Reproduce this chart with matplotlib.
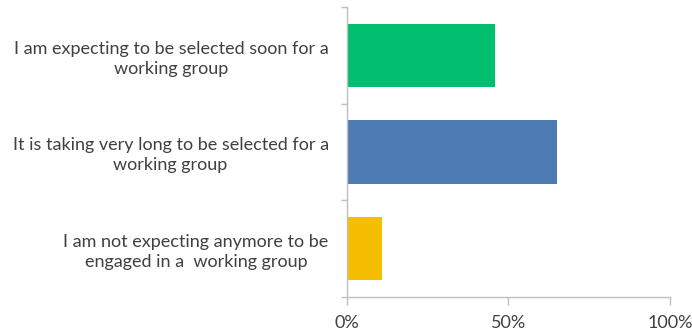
import matplotlib
matplotlib.use("Agg")
import matplotlib.pyplot as plt
from matplotlib.ticker import FixedLocator, PercentFormatter

categories = [
    "I am expecting to be selected soon for a\nworking group",
    "It is taking very long to be selected for a\nworking group",
    "I am not expecting anymore to be\nengaged in a  working group",
]
values = [46, 65, 11]
colors = ["#00BF6F", "#4E7BB4", "#F6BE00"]
xticks = [0, 50, 100]

plt.rcParams["font.family"] = ["Lato", "DejaVu Sans"]

fig = plt.figure(figsize=(6.92, 3.31), dpi=100)
ax = fig.add_axes([0.501, 0.104, 0.467, 0.874])

n = len(categories)
ypos = [n - 1 - i for i in range(n)]
ax.barh(ypos, values, height=0.66, color=colors, edgecolor="none")

ax.set_xlim(0, 100)
ax.set_ylim(-0.5, n - 0.5)

ax.set_xticks(xticks)
ax.xaxis.set_major_formatter(PercentFormatter(decimals=0))
ax.tick_params(axis="x", direction="out", length=6, width=1, color="#bfbfbf",
               labelsize=13, labelcolor="#404040", pad=7)

# category separators as major ticks, labels on minor ticks at bar centres
ax.yaxis.set_major_locator(FixedLocator([-0.5 + k for k in range(n + 1)]))
ax.yaxis.set_major_formatter(plt.NullFormatter())
ax.yaxis.set_minor_locator(FixedLocator(ypos))
ax.set_yticklabels(categories, minor=True)
ax.tick_params(axis="y", which="major", direction="out", length=4, width=1,
               color="#bfbfbf")
ax.tick_params(axis="y", which="minor", length=0, pad=13, labelsize=13,
               labelcolor="#404040")
for lab in ax.get_yticklabels(minor=True):
    lab.set_multialignment("center")
    lab.set_linespacing(1.3)

for side in ["top", "right"]:
    ax.spines[side].set_visible(False)
for side in ["left", "bottom"]:
    ax.spines[side].set_color("#bfbfbf")
    ax.spines[side].set_linewidth(1)

fig.savefig("out.png", dpi=100)
